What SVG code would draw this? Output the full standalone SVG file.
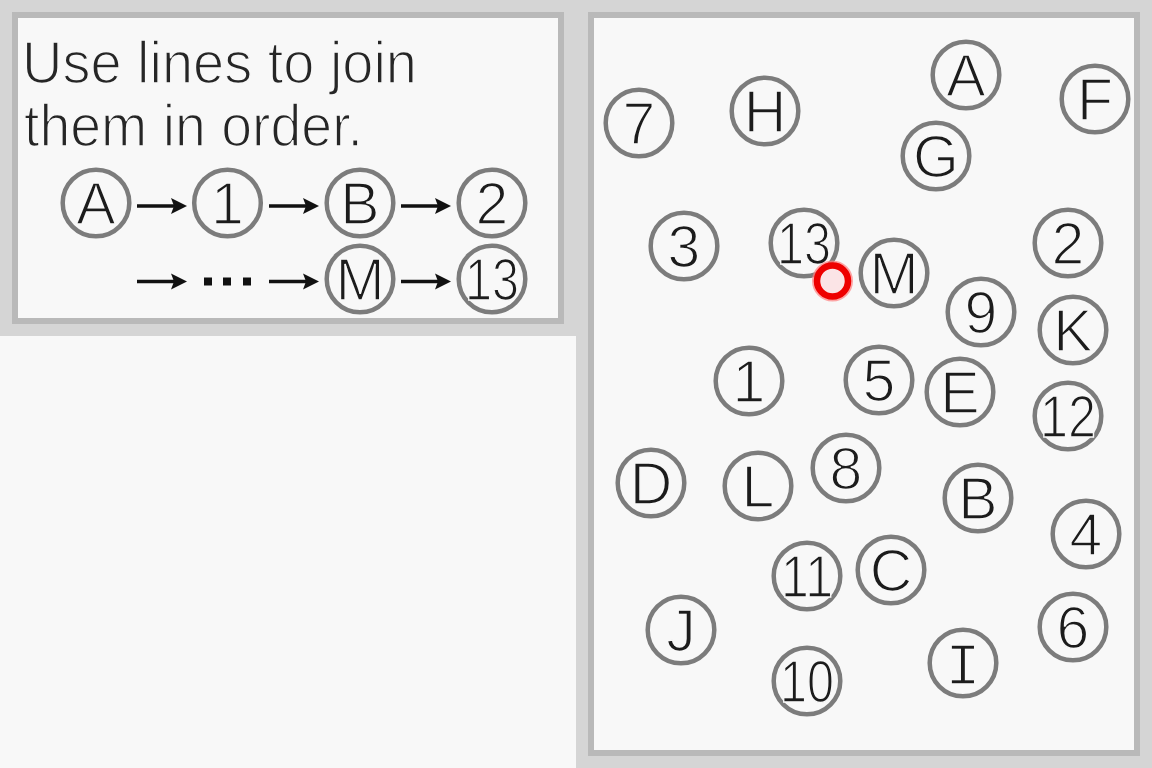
<svg xmlns="http://www.w3.org/2000/svg" xmlns:xlink="http://www.w3.org/1999/xlink" width="1152" height="768" viewBox="0 0 1152 768">
<style>
.panel{fill:#f8f8f8;stroke:#b9b9b9;stroke-width:6}
.n circle{fill:none;stroke:#7c7c7c;stroke-width:4.5}
.n text{font-family:"Liberation Sans",Arial,sans-serif;font-size:59px;fill:#1c1c1c;text-anchor:middle;stroke:#f8f8f8;stroke-width:1.6}
.t{font-family:"Liberation Sans",Arial,sans-serif;font-size:59px;fill:#262626;stroke:#f8f8f8;stroke-width:1.6}
.mono{font-family:"Liberation Mono","Courier New",monospace !important}
</style>
<defs>
<g id="arr">
<line x1="0" y1="0" x2="38" y2="0" stroke="#111" stroke-width="3.5"/>
<polygon points="34,-8 50,0 34,8 37,0" fill="#111"/>
</g>
</defs>
<rect x="0" y="0" width="1152" height="768" fill="#d5d5d5"/>
<rect x="0" y="336" width="576" height="432" fill="#f8f8f8"/>
<rect class="panel" x="15" y="15" width="546" height="306"/>
<rect class="panel" x="591" y="15" width="546" height="738"/>

<g id="instructions">
<text class="t" x="22" y="83" textLength="395" lengthAdjust="spacingAndGlyphs">Use lines to join</text>
<text class="t" x="24" y="146" textLength="339" lengthAdjust="spacingAndGlyphs">them in order.</text>
</g>

<g id="legend">
<g class="n" id="lg-A"><circle cx="96" cy="203" r="33.3"/><text x="96" y="223.5">A</text></g>
<g class="n" id="lg-1"><circle cx="227.5" cy="203" r="33.3"/><text x="227.5" y="223.5">1</text></g>
<g class="n" id="lg-B"><circle cx="360" cy="203" r="33.3"/><text x="360" y="223.5">B</text></g>
<g class="n" id="lg-2"><circle cx="492" cy="203" r="33.3"/><text x="492" y="223.5">2</text></g>
<g class="n" id="lg-M"><circle cx="360" cy="279" r="33.3"/><text x="360" y="299.5">M</text></g>
<g class="n" id="lg-13"><circle cx="492" cy="279" r="33.3"/><text x="492" y="299.5" textLength="54" lengthAdjust="spacingAndGlyphs">13</text></g>
</g>

<g id="connectors">
<use xlink:href="#arr" x="137" y="206"/>
<use xlink:href="#arr" x="269" y="206"/>
<use xlink:href="#arr" x="401" y="206"/>
<use xlink:href="#arr" x="137" y="281.5"/>
<use xlink:href="#arr" x="269" y="281.5"/>
<use xlink:href="#arr" x="401" y="281.5"/>
<g fill="#111">
<rect x="204" y="277.5" width="8" height="8"/>
<rect x="223" y="277.5" width="8" height="8"/>
<rect x="243" y="277.5" width="8" height="8"/>
</g>
</g>

<g id="board">
<g class="n" id="n-7"><circle cx="639" cy="123" r="33.3"/><text x="639" y="143.5">7</text></g>
<g class="n" id="n-H"><circle cx="765" cy="111" r="33.3"/><text x="765" y="131.5">H</text></g>
<g class="n" id="n-A"><circle cx="966" cy="75" r="33.3"/><text x="966" y="95.5">A</text></g>
<g class="n" id="n-F"><circle cx="1095" cy="99" r="33.3"/><text x="1095" y="119.5">F</text></g>
<g class="n" id="n-G"><circle cx="936" cy="156" r="33.3"/><text x="936" y="176.5">G</text></g>
<g class="n" id="n-3"><circle cx="684" cy="246" r="33.3"/><text x="684" y="266.5">3</text></g>
<g class="n" id="n-13"><circle cx="804" cy="243" r="33.3"/><text x="804" y="263.5" textLength="54" lengthAdjust="spacingAndGlyphs">13</text></g>
<g class="n" id="n-M"><circle cx="894" cy="273" r="33.3"/><text x="894" y="293.5">M</text></g>
<g class="n" id="n-2"><circle cx="1068" cy="243" r="33.3"/><text x="1068" y="263.5">2</text></g>
<g class="n" id="n-9"><circle cx="981" cy="312" r="33.3"/><text x="981" y="332.5">9</text></g>
<g class="n" id="n-K"><circle cx="1073" cy="330" r="33.3"/><text x="1073" y="350.5">K</text></g>
<g class="n" id="n-1"><circle cx="749" cy="381" r="33.3"/><text x="749" y="401.5">1</text></g>
<g class="n" id="n-5"><circle cx="879" cy="380" r="33.3"/><text x="879" y="400.5">5</text></g>
<g class="n" id="n-E"><circle cx="960" cy="392" r="33.3"/><text x="960" y="412.5">E</text></g>
<g class="n" id="n-12"><circle cx="1068" cy="416" r="33.3"/><text x="1068" y="436.5" textLength="56" lengthAdjust="spacingAndGlyphs">12</text></g>
<g class="n" id="n-D"><circle cx="651" cy="483" r="33.3"/><text x="651" y="503.5">D</text></g>
<g class="n" id="n-L"><circle cx="758" cy="486" r="33.3"/><text x="758" y="506.5">L</text></g>
<g class="n" id="n-8"><circle cx="846" cy="468" r="33.3"/><text x="846" y="488.5">8</text></g>
<g class="n" id="n-B"><circle cx="978" cy="498" r="33.3"/><text x="978" y="518.5">B</text></g>
<g class="n" id="n-4"><circle cx="1086" cy="534" r="33.3"/><text x="1086" y="554.5">4</text></g>
<g class="n" id="n-11"><circle cx="807" cy="576" r="33.3"/><text x="807" y="596.5" textLength="52" lengthAdjust="spacingAndGlyphs">11</text></g>
<g class="n" id="n-C"><circle cx="891" cy="570" r="33.3"/><text x="891" y="590.5">C</text></g>
<g class="n" id="n-J"><circle cx="681" cy="630" r="33.3"/><text x="681" y="650.5">J</text></g>
<g class="n" id="n-6"><circle cx="1073" cy="627" r="33.3"/><text x="1073" y="647.5">6</text></g>
<g class="n" id="n-10"><circle cx="807" cy="681" r="33.3"/><text x="807" y="701.5" textLength="54" lengthAdjust="spacingAndGlyphs">10</text></g>
<g class="n" id="n-I"><circle cx="963" cy="663" r="33.3"/><text class="mono" x="963" y="683.5">I</text></g>
</g>

<g id="cursor">
<circle cx="832.5" cy="281" r="18" fill="none" stroke="#ff8080" stroke-width="5" opacity="0.7"/>
<circle cx="832.5" cy="281" r="15.5" fill="#fbe4e6" stroke="#ee0000" stroke-width="6.5"/>
</g>
</svg>
